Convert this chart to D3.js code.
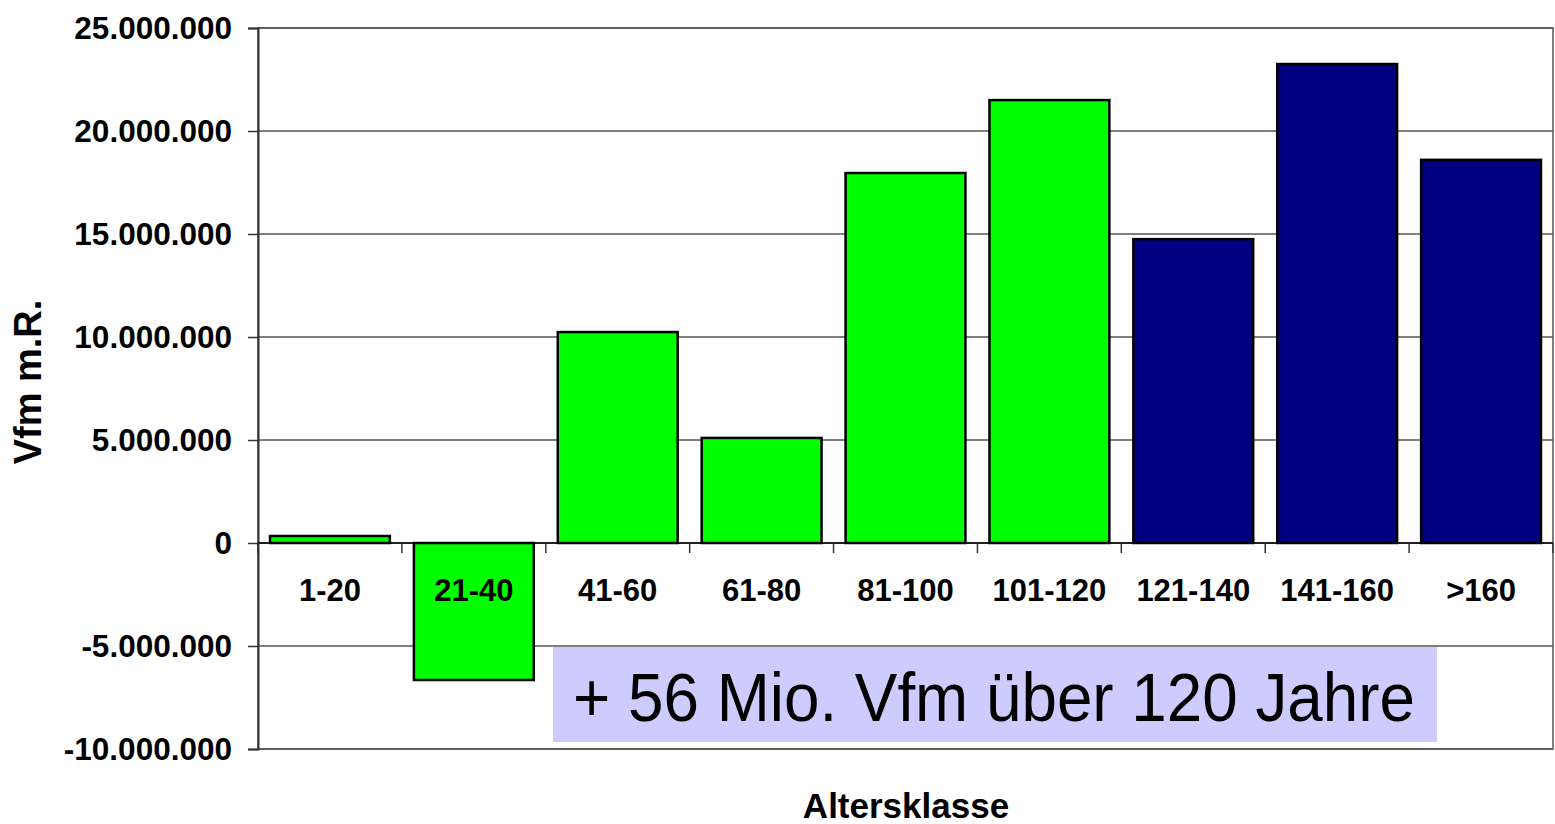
<!DOCTYPE html>
<html>
<head>
<meta charset="utf-8">
<script src="https://cdn.jsdelivr.net/npm/d3@7"></script>
<style>
  body { margin: 0; background: #fff; }
  text { font-family: Arial, 'Liberation Sans', sans-serif; }
</style>
</head>
<body>
<script>
var WIDTH = 1555, HEIGHT = 824;

// data
var categories = ['1-20', '21-40', '41-60', '61-80', '81-100', '101-120', '121-140', '141-160', '>160'];
var values = [340000, -6650000, 10240000, 5100000, 17960000, 21500000, 14750000, 23250000, 18600000];
var colors = ['#00ff00', '#00ff00', '#00ff00', '#00ff00', '#00ff00', '#00ff00', '#000080', '#000080', '#000080'];
var yTicks = [-10000000, -5000000, 0, 5000000, 10000000, 15000000, 20000000, 25000000];
var note = '+ 56 Mio. Vfm über 120 Jahre';

var margin = { left: 258, right: 2, top: 28, bottom: 75 };

var svg = d3.select('body').append('svg').attr('width', WIDTH).attr('height', HEIGHT);

var x = d3.scaleBand()
    .domain(categories)
    .range([margin.left, WIDTH - margin.right])
    .paddingInner(0.167)
    .paddingOuter(0.0835);

var y = d3.scaleLinear()
    .domain([-10000000, 25000000])
    .range([HEIGHT - margin.bottom, margin.top]);

// German style thousands, plain hyphen for negatives
var fmt = function (v) {
    return d3.format(',')(v).replace(/,/g, '.').replace('\u2212', '-');
};

// plot frame (top and right in grey)
svg.append('rect')
    .attr('x', margin.left).attr('y', y(25000000))
    .attr('width', WIDTH - margin.right - margin.left)
    .attr('height', y(-10000000) - y(25000000))
    .attr('fill', 'none').attr('stroke', '#808080').attr('stroke-width', 2);

// gridlines
svg.append('g').selectAll('line')
    .data(yTicks)
    .enter().append('line')
    .attr('x1', margin.left).attr('x2', WIDTH - margin.right)
    .attr('y1', d => y(d)).attr('y2', d => y(d))
    .attr('stroke', '#555').attr('stroke-width', 1.5);

// y axis
var yAxis = d3.axisLeft(y).tickValues(yTicks).tickFormat(fmt).tickSize(10).tickPadding(16);
var yg = svg.append('g').attr('transform', 'translate(' + margin.left + ',0)').call(yAxis);
yg.select('.domain').attr('stroke', '#333').attr('stroke-width', 2);
yg.selectAll('.tick line').attr('stroke', '#333').attr('stroke-width', 1.5);
yg.selectAll('.tick text')
    .attr('fill', '#000')
    .attr('font-size', 31.5)
    .attr('font-weight', 'bold')
    .attr('font-family', 'Arial, Liberation Sans, sans-serif');

// bars
svg.append('g').selectAll('rect')
    .data(values)
    .enter().append('rect')
    .attr('x', (d, i) => x(categories[i]))
    .attr('width', x.bandwidth())
    .attr('y', d => y(Math.max(0, d)))
    .attr('height', d => Math.abs(y(d) - y(0)))
    .attr('fill', (d, i) => colors[i])
    .attr('stroke', '#000')
    .attr('stroke-width', 2.5);

// zero axis with tick marks between categories
svg.append('line')
    .attr('x1', margin.left).attr('x2', WIDTH - margin.right)
    .attr('y1', y(0)).attr('y2', y(0))
    .attr('stroke', '#000').attr('stroke-width', 1.5);

var boundaries = d3.range(categories.length + 1).map(i => margin.left + i * x.step());
svg.append('g').selectAll('line')
    .data(boundaries)
    .enter().append('line')
    .attr('x1', d => d).attr('x2', d => d)
    .attr('y1', y(0)).attr('y2', y(0) + 10)
    .attr('stroke', '#333').attr('stroke-width', 1.5);

// category labels
svg.append('g').selectAll('text')
    .data(categories)
    .enter().append('text')
    .attr('x', d => x(d) + x.bandwidth() / 2)
    .attr('y', y(0) + 58)
    .attr('text-anchor', 'middle')
    .attr('font-size', 31)
    .attr('font-weight', 'bold')
    .text(d => d);

// annotation box
svg.append('rect')
    .attr('x', 553).attr('y', 647)
    .attr('width', 884).attr('height', 95)
    .attr('fill', '#ccccff');

svg.append('text')
    .attr('x', 573).attr('y', 721)
    .attr('font-size', 68)
    .attr('textLength', 842)
    .attr('lengthAdjust', 'spacingAndGlyphs')
    .text(note);

// axis titles
svg.append('text')
    .attr('x', 906).attr('y', 818)
    .attr('text-anchor', 'middle')
    .attr('font-size', 35)
    .attr('font-weight', 'bold')
    .text('Altersklasse');

svg.append('text')
    .attr('transform', 'translate(41,382) rotate(-90)')
    .attr('text-anchor', 'middle')
    .attr('font-size', 38)
    .attr('font-weight', 'bold')
    .text('Vfm m.R.');
</script>
</body>
</html>
